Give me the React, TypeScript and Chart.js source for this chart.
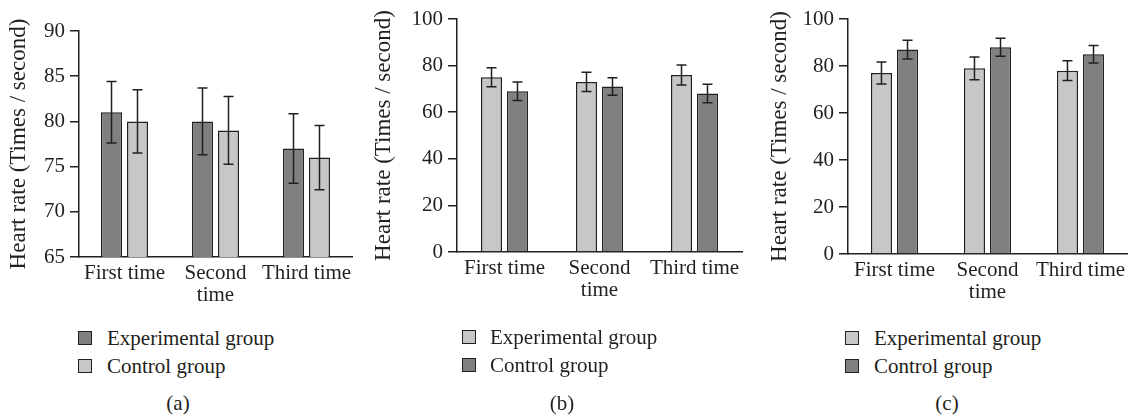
import React, { useEffect, useRef } from "react";
import { Chart, registerables } from "chart.js";

Chart.register(...registerables);

// ---------- data ----------
const categories: (string | string[])[] = ["First time", ["Second", "time"], "Third time"];
const seriesNames = ["Experimental group", "Control group"];
const yTitle = "Heart rate (Times / second)";
const panelCaptions = ["(a)", "(b)", "(c)"];

// panel (a)
const aExperimental = [81, 80, 77];
const aExperimentalErr = [3.4, 3.7, 3.85];
const aControl = [80, 79, 76];
const aControlErr = [3.5, 3.75, 3.55];
const aTicks = [65, 70, 75, 80, 85, 90];

// panel (b)
const bExperimental = [75, 73, 76];
const bExperimentalErr = [4.1, 4.1, 4.3];
const bControl = [69, 71, 68];
const bControlErr = [3.95, 3.75, 3.95];
const bTicks = [0, 20, 40, 60, 80, 100];

// panel (c)
const cExperimental = [77, 79, 78];
const cExperimentalErr = [4.7, 4.8, 4.2];
const cControl = [87, 88, 85];
const cControlErr = [4.0, 3.8, 3.75];
const cTicks = [0, 20, 40, 60, 80, 100];

// ---------- style ----------
const INK = "#231f20";
const DARK = "#808080";
const LIGHT = "#c6c8c7";
const FONT = "'Liberation Serif', 'Times New Roman', serif";

const errorBarPlugin = {
  id: "errorBars",
  afterDatasetsDraw(chart: any) {
    const ctx = chart.ctx;
    const yScale = chart.scales.y;
    chart.data.datasets.forEach((ds: any, i: number) => {
      const meta = chart.getDatasetMeta(i);
      meta.data.forEach((el: any, j: number) => {
        const v = ds.data[j];
        const e = ds.errors[j];
        const top = yScale.getPixelForValue(v + e);
        const bot = yScale.getPixelForValue(v - e);
        const x = el.x;
        ctx.save();
        ctx.strokeStyle = INK;
        ctx.lineWidth = 1.5;
        ctx.beginPath();
        ctx.moveTo(x, top);
        ctx.lineTo(x, bot);
        ctx.moveTo(x - 5, top);
        ctx.lineTo(x + 5, top);
        ctx.moveTo(x - 5, bot);
        ctx.lineTo(x + 5, bot);
        ctx.stroke();
        ctx.restore();
      });
    });
  },
};

type PanelCfg = {
  left: number;
  w: number;
  h: number;
  yW: number;
  xH: number;
  padT: number;
  padR: number;
  catPct: number;
  ticks: number[];
  exp: number[];
  expErr: number[];
  ctl: number[];
  ctlErr: number[];
  expColor: string;
  ctlColor: string;
  legendSquareX: number;
  legendTextX: number;
  legendY: number[];
  captionX: number;
};

const panels: PanelCfg[] = [
  {
    left: 0, w: 370, h: 320, yW: 79, xH: 63, padT: 31, padR: 18, catPct: 0.571,
    ticks: aTicks, exp: aExperimental, expErr: aExperimentalErr, ctl: aControl, ctlErr: aControlErr,
    expColor: DARK, ctlColor: LIGHT,
    legendSquareX: 78, legendTextX: 107, legendY: [338, 366], captionX: 178,
  },
  {
    left: 365, w: 390, h: 320, yW: 92, xH: 68, padT: 19, padR: 13, catPct: 0.547,
    ticks: bTicks, exp: bExperimental, expErr: bExperimentalErr, ctl: bControl, ctlErr: bControlErr,
    expColor: LIGHT, ctlColor: DARK,
    legendSquareX: 462, legendTextX: 490, legendY: [337, 365], captionX: 562,
  },
  {
    left: 761, w: 371, h: 320, yW: 87, xH: 66, padT: 19, padR: 5, catPct: 0.56,
    ticks: cTicks, exp: cExperimental, expErr: cExperimentalErr, ctl: cControl, ctlErr: cControlErr,
    expColor: LIGHT, ctlColor: DARK,
    legendSquareX: 845, legendTextX: 874, legendY: [338, 366], captionX: 947,
  },
];

function Panel({ cfg }: { cfg: PanelCfg }) {
  const ref = useRef<HTMLCanvasElement>(null);
  useEffect(() => {
    const ticks = cfg.ticks;
    const chart = new Chart(ref.current as HTMLCanvasElement, {
      type: "bar",
      data: {
        labels: categories as any,
        datasets: [
          {
            label: seriesNames[0],
            data: cfg.exp,
            errors: cfg.expErr,
            backgroundColor: cfg.expColor,
            borderColor: INK,
            borderWidth: 1.5,
            categoryPercentage: cfg.catPct,
            barPercentage: 0.81,
          } as any,
          {
            label: seriesNames[1],
            data: cfg.ctl,
            errors: cfg.ctlErr,
            backgroundColor: cfg.ctlColor,
            borderColor: INK,
            borderWidth: 1.5,
            categoryPercentage: cfg.catPct,
            barPercentage: 0.81,
          } as any,
        ],
      },
      options: {
        responsive: false,
        animation: false,
        layout: { padding: { left: 0, top: cfg.padT, right: cfg.padR, bottom: 0 } },
        plugins: { legend: { display: false }, tooltip: { enabled: false } },
        scales: {
          x: {
            grid: { display: false, drawTicks: false },
            border: { display: true, color: INK, width: 1.5 },
            ticks: {
              color: INK,
              font: { family: FONT, size: 21, lineHeight: 1.05 },
              padding: 5,
              maxRotation: 0,
              autoSkip: false,
            },
            afterFit: (s: any) => {
              s.height = cfg.xH;
            },
          },
          y: {
            min: ticks[0],
            max: ticks[ticks.length - 1],
            ticks: {
              stepSize: ticks[1] - ticks[0],
              color: INK,
              font: { family: FONT, size: 21 },
              padding: 5,
            },
            grid: {
              display: true,
              drawOnChartArea: false,
              drawTicks: true,
              tickLength: 9,
              color: INK,
              lineWidth: 1.5,
            },
            border: { display: true, color: INK, width: 1.5 },
            title: {
              display: true,
              text: yTitle,
              color: INK,
              font: { family: FONT, size: 23 },
              padding: { top: 5, bottom: 0 },
            },
            afterFit: (s: any) => {
              s.width = cfg.yW;
            },
          },
        },
      },
      plugins: [errorBarPlugin],
    });
    return () => chart.destroy();
  }, []);
  return (
    <canvas
      ref={ref}
      width={cfg.w}
      height={cfg.h}
      style={{ position: "absolute", left: cfg.left, top: 0, width: cfg.w, height: cfg.h }}
    />
  );
}

function Legend({ cfg, caption }: { cfg: PanelCfg; caption: string }) {
  const colors = [cfg.expColor, cfg.ctlColor];
  return (
    <>
      {seriesNames.map((name, i) => (
        <React.Fragment key={name}>
          <div
            style={{
              position: "absolute",
              left: cfg.legendSquareX,
              top: cfg.legendY[i] - 7,
              width: 12,
              height: 12,
              background: colors[i],
              border: `1.5px solid ${INK}`,
            }}
          />
          <div
            style={{
              position: "absolute",
              left: cfg.legendTextX,
              top: cfg.legendY[i] - 14,
              height: 28,
              lineHeight: "28px",
              fontFamily: FONT,
              fontSize: 21,
              color: INK,
              whiteSpace: "nowrap",
            }}
          >
            {name}
          </div>
        </React.Fragment>
      ))}
      <div
        style={{
          position: "absolute",
          left: cfg.captionX - 30,
          width: 60,
          top: 403 - 14,
          height: 28,
          lineHeight: "28px",
          textAlign: "center",
          fontFamily: FONT,
          fontSize: 21,
          color: INK,
        }}
      >
        {caption}
      </div>
    </>
  );
}

export default function App() {
  return (
    <div
      style={{
        position: "absolute",
        left: 0,
        top: 0,
        width: 1132,
        height: 417,
        background: "#ffffff",
        overflow: "hidden",
      }}
    >
      {panels.map((p, i) => (
        <React.Fragment key={i}>
          <Panel cfg={p} />
          <Legend cfg={p} caption={panelCaptions[i]} />
        </React.Fragment>
      ))}
    </div>
  );
}
